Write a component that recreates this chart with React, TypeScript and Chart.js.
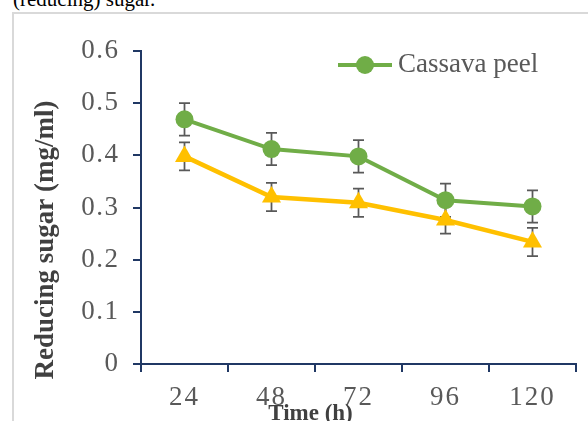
import React, { useEffect, useRef } from 'react';
import { Chart, registerables, CategoryScale, LinearScale } from 'chart.js';

// ---- data ----
const timeLabels = ['24', '48', '72', '96', '120'];
const cassavaPeel = [0.469, 0.412, 0.398, 0.314, 0.302];
const cassavaPeelErr = [0.031, 0.031, 0.031, 0.032, 0.031];
const secondSeries = [0.398, 0.32, 0.309, 0.276, 0.234];
const secondSeriesErr = [0.027, 0.027, 0.027, 0.026, 0.027];
const yMin = 0;
const yMax = 0.6;
const yStep = 0.1;
const seriesNames = ['Cassava peel', ''];
const xTitle = 'Time (h)';
const yTitle = 'Reducing sugar (mg/ml)';
const captionText = '(reducing) sugar.';

// ---- style ----
const SERIF = '"Liberation Serif", "Times New Roman", serif';
const AXIS = '#203864';
const TICK_COLOR = '#595959';
const TITLE_COLOR = '#404040';
const GREEN = '#70AD47';
const YELLOW = '#FFC000';
const ERR_COLOR = '#595959';
const W = 588;
const H = 421;

class SpacedCategoryScale extends CategoryScale {
  static id = 'spacedCategory';
  drawLabels(chartArea: any) {
    const ctx: any = this.ctx;
    const prev = ctx.letterSpacing;
    ctx.letterSpacing = '2px';
    super.drawLabels(chartArea);
    ctx.letterSpacing = prev;
  }
}

class SpacedLinearScale extends LinearScale {
  static id = 'spacedLinear';
  drawLabels(chartArea: any) {
    const ctx: any = this.ctx;
    const prev = ctx.letterSpacing;
    ctx.letterSpacing = '1.5px';
    super.drawLabels(chartArea);
    ctx.letterSpacing = prev;
  }
}

Chart.register(...registerables, SpacedCategoryScale, SpacedLinearScale);

const errorArrays = [cassavaPeelErr, secondSeriesErr];

const errorBarPlugin = {
  id: 'errorBars',
  beforeDatasetsDraw(chart: any) {
    const ctx = chart.ctx;
    const yScale = chart.scales.y;
    ctx.save();
    ctx.strokeStyle = ERR_COLOR;
    ctx.lineWidth = 1.75;
    chart.data.datasets.forEach((ds: any, d: number) => {
      const meta = chart.getDatasetMeta(d);
      const errs = errorArrays[d];
      meta.data.forEach((pt: any, i: number) => {
        const v = ds.data[i];
        const e = errs[i];
        const x = pt.x;
        const yt = yScale.getPixelForValue(v + e);
        const yb = yScale.getPixelForValue(v - e);
        const cap = 5.5;
        ctx.beginPath();
        ctx.moveTo(x, yt);
        ctx.lineTo(x, yb);
        ctx.moveTo(x - cap, yt);
        ctx.lineTo(x + cap, yt);
        ctx.moveTo(x - cap, yb);
        ctx.lineTo(x + cap, yb);
        ctx.stroke();
      });
    });
    ctx.restore();
  },
};

const legendPlacer = {
  id: 'legendPlacer',
  afterLayout(chart: any) {
    const lg = chart.legend;
    if (!lg) return;
    const pad = 10;
    lg.left = 345.5 - pad;
    lg.top = 51.5 - pad;
    lg.right = W;
    lg.bottom = lg.top + 60;
    lg.width = lg.right - lg.left;
    lg.height = lg.bottom - lg.top;
  },
};

const axisTitlePlugin = {
  id: 'axisTitles',
  afterDraw(chart: any) {
    const ctx = chart.ctx;
    ctx.save();
    ctx.fillStyle = TITLE_COLOR;
    ctx.font = `bold 27px ${SERIF}`;
    ctx.textAlign = 'center';
    ctx.textBaseline = 'alphabetic';
    ctx.translate(52.5, 240);
    ctx.rotate(-Math.PI / 2);
    ctx.fillText(yTitle, 0, 0);
    ctx.restore();
    ctx.save();
    ctx.fillStyle = TITLE_COLOR;
    ctx.font = `bold 23px ${SERIF}`;
    ctx.textAlign = 'center';
    ctx.textBaseline = 'alphabetic';
    ctx.fillText(xTitle, 310.5, 420);
    ctx.restore();
  },
};

function makeLegendMarker(): HTMLCanvasElement {
  const c = document.createElement('canvas');
  c.width = 54;
  c.height = 20;
  const g = c.getContext('2d')!;
  g.strokeStyle = GREEN;
  g.lineWidth = 4;
  g.beginPath();
  g.moveTo(0, 10);
  g.lineTo(54, 10);
  g.stroke();
  g.fillStyle = GREEN;
  g.beginPath();
  g.arc(27, 10, 9, 0, Math.PI * 2);
  g.fill();
  return c;
}

export default function App() {
  const canvasRef = useRef<HTMLCanvasElement | null>(null);

  useEffect(() => {
    if (!canvasRef.current) return;
    const marker = makeLegendMarker();
    const tickFont = { family: SERIF, size: 27 };
    const chart = new Chart(canvasRef.current, {
      type: 'line',
      data: {
        labels: timeLabels,
        datasets: [
          {
            label: seriesNames[0],
            data: cassavaPeel,
            borderColor: GREEN,
            backgroundColor: GREEN,
            borderWidth: 4,
            pointStyle: 'circle',
            pointRadius: 9,
            pointHoverRadius: 9,
            pointBorderWidth: 0,
            pointBackgroundColor: GREEN,
            tension: 0,
            fill: false,
          },
          {
            label: seriesNames[1],
            data: secondSeries,
            borderColor: YELLOW,
            backgroundColor: YELLOW,
            borderWidth: 4.5,
            pointStyle: 'triangle',
            pointRadius: 11,
            pointHoverRadius: 11,
            pointBorderWidth: 0,
            pointBackgroundColor: YELLOW,
            tension: 0,
            fill: false,
          },
        ],
      },
      options: {
        responsive: false,
        animation: false,
        devicePixelRatio: 1,
        layout: { padding: { top: 51, right: 12, bottom: 0, left: 0 } },
        scales: {
          x: {
            type: 'spacedCategory' as any,
            offset: true,
            grid: {
              offset: true,
              drawOnChartArea: false,
              drawTicks: true,
              tickLength: 8,
              color: AXIS,
              lineWidth: 2,
            },
            border: { display: true, color: AXIS, width: 2 },
            ticks: {
              color: TICK_COLOR,
              font: tickFont,
              padding: 10,
              maxRotation: 0,
              autoSkip: false,
            },
            afterFit: (s: any) => {
              s.height = H - 364;
            },
          },
          y: {
            type: 'spacedLinear' as any,
            min: yMin,
            max: yMax,
            grid: {
              drawOnChartArea: false,
              drawTicks: true,
              tickLength: 8,
              color: AXIS,
              lineWidth: 2,
            },
            border: { display: true, color: AXIS, width: 2 },
            ticks: {
              stepSize: yStep,
              color: TICK_COLOR,
              font: tickFont,
              padding: 13.5,
              callback: (v: any) => String(Math.round(Number(v) * 10) / 10),
            },
            afterFit: (s: any) => {
              s.width = 141;
            },
          },
        },
        plugins: {
          legend: {
            display: true,
            position: 'chartArea' as any,
            align: 'start',
            labels: {
              usePointStyle: true,
              pointStyle: marker as any,
              pointStyleWidth: 39,
              padding: 10,
              color: TICK_COLOR,
              font: { family: SERIF, size: 27 },
              filter: (item: any) => item.datasetIndex === 0,
            },
          },
          tooltip: { enabled: false },
        },
      },
      plugins: [errorBarPlugin, legendPlacer, axisTitlePlugin],
    });
    return () => chart.destroy();
  }, []);

  return (
    <div
      style={{
        position: 'fixed',
        left: 0,
        top: 0,
        width: W,
        height: H,
        background: '#fff',
        overflow: 'hidden',
      }}
    >
      <div
        style={{
          position: 'absolute',
          left: 13,
          top: -10.6,
          fontFamily: SERIF,
          fontSize: 21,
          lineHeight: '21px',
          color: '#000',
          whiteSpace: 'nowrap',
        }}
      >
        {captionText}
      </div>
      <div
        style={{
          position: 'absolute',
          left: 12,
          top: 12,
          width: W + 20,
          height: H + 20,
          borderLeft: '2px solid #d9d9d9',
          borderTop: '2px solid #d9d9d9',
          boxSizing: 'border-box',
        }}
      />
      <canvas
        ref={canvasRef}
        width={W}
        height={H}
        style={{ position: 'absolute', left: 0, top: 0, width: W, height: H }}
      />
    </div>
  );
}
